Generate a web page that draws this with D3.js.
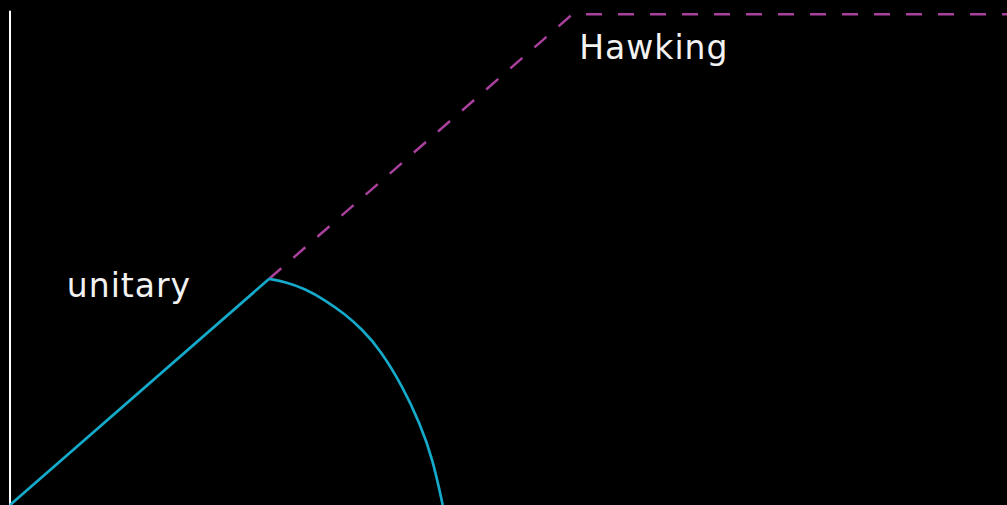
<!DOCTYPE html>
<html>
<head>
<meta charset="utf-8">
<script src="https://cdn.jsdelivr.net/npm/d3@7"></script>
<style>
  html, body { margin: 0; padding: 0; background: #000; overflow: hidden; }
  #chart { width: 1007px; height: 505px; }
  .label { fill: #f2f2f2; font-family: "DejaVu Sans", sans-serif; font-size: 33px; font-weight: 400; letter-spacing: 1px; }
</style>
</head>
<body>
<div id="chart"></div>
<script>
// Page curve: entropy vs time (arbitrary units)
const unitaryRise = [[0, 0], [26, 26]];
const unitaryFall = [
  [26, 26], [27.6, 25.65], [29.6, 24.85], [31.6, 23.55], [33.6, 21.95],
  [35.3, 20.2], [37.1, 17.9], [39.4, 13.6], [41.1, 9.4], [42.4, 5.3], [43.4, 0]
];
const hawking = [[26, 26], [56.4, 56.4], [100, 56.4]];
const labels = [
  { text: "unitary", t: 5.7, s: 23.9 },
  { text: "Hawking", t: 57.1, s: 51.3 }
];
const axisTop = 56.8;

const width = 1007, height = 505;

const svg = d3.select("#chart").append("svg")
  .attr("width", width)
  .attr("height", height)
  .style("background", "#000");

const x = d3.scaleLinear().domain([0, 100]).range([10, 1007]);
const y = d3.scaleLinear().domain([0, 58]).range([505, 0.4]);

const line = d3.line().x(d => x(d[0])).y(d => y(d[1]));

// vertical axis
svg.append("line")
  .attr("x1", x(0)).attr("x2", x(0))
  .attr("y1", y(0)).attr("y2", y(axisTop))
  .attr("stroke", "#fff")
  .attr("stroke-width", 2);

// Hawking (dashed)
svg.append("path")
  .datum(hawking)
  .attr("d", line)
  .attr("fill", "none")
  .attr("stroke", "#a8409c")
  .attr("stroke-width", 2.5)
  .attr("stroke-dasharray", "16,16");

// unitary
svg.append("path")
  .datum(unitaryRise)
  .attr("d", line)
  .attr("fill", "none")
  .attr("stroke", "#15a9ca")
  .attr("stroke-width", 2.7);

svg.append("path")
  .datum(unitaryFall)
  .attr("d", d3.line().x(d => x(d[0])).y(d => y(d[1])).curve(d3.curveBasis))
  .attr("fill", "none")
  .attr("stroke", "#15a9ca")
  .attr("stroke-width", 2.7);

svg.selectAll(".label")
  .data(labels)
  .enter()
  .append("text")
  .attr("class", "label")
  .attr("x", d => x(d.t))
  .attr("y", d => y(d.s))
  .text(d => d.text);
</script>
</body>
</html>
